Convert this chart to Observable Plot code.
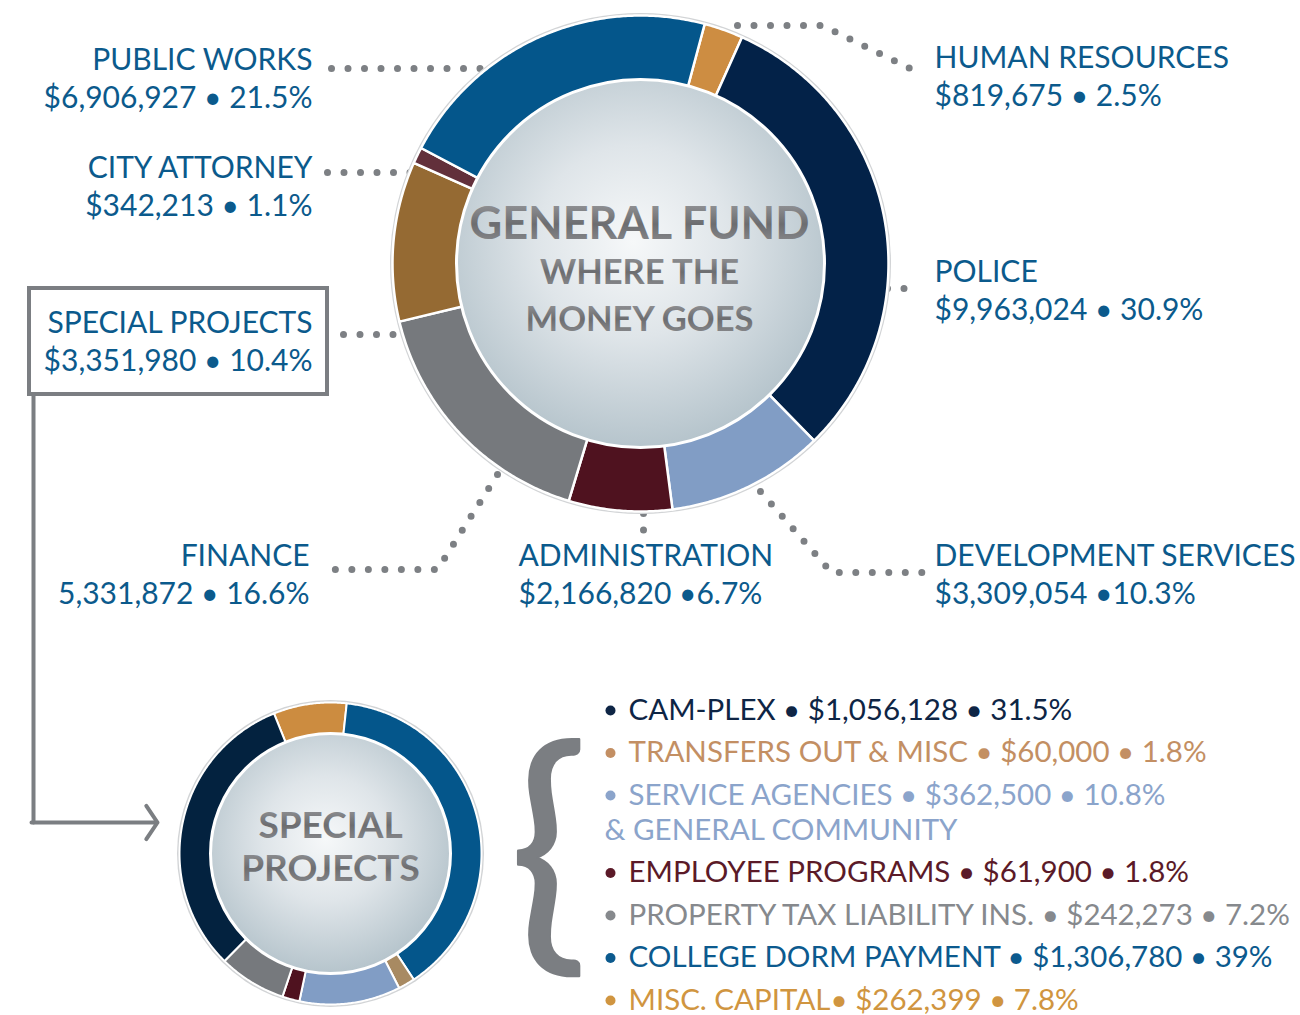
<!DOCTYPE html>
<html>
<head>
<meta charset="utf-8">
<script src="https://cdn.jsdelivr.net/npm/d3@7"></script>
<script src="https://cdn.jsdelivr.net/npm/@observablehq/plot@0.6"></script>
<style>
  html, body { margin: 0; padding: 0; background: #ffffff; }
  #chart svg { display: block; }
</style>
</head>
<body>
<div id="chart"></div>
<script>
// ---------------- DATA ----------------
// General fund departments, in clockwise ring order (starting at Human Resources)
const departments = ["HUMAN RESOURCES", "POLICE", "DEVELOPMENT SERVICES", "ADMINISTRATION",
                     "FINANCE", "SPECIAL PROJECTS", "CITY ATTORNEY", "PUBLIC WORKS"];
const deptAmounts = [819675, 9963024, 3309054, 2166820, 5331872, 3351980, 342213, 6906927];
const deptPercents = [2.5, 30.9, 10.3, 6.7, 16.6, 10.4, 1.1, 21.5];
// value lines exactly as printed on the graphic
const deptValueLabels = ["$819,675 • 2.5%", "$9,963,024 • 30.9%", "$3,309,054 •10.3%", "$2,166,820 •6.7%",
                         "5,331,872 • 16.6%", "$3,351,980 • 10.4%", "$342,213 • 1.1%", "$6,906,927 • 21.5%"];

// Special projects breakdown, in legend order
const spCategories = ["CAM-PLEX", "TRANSFERS OUT & MISC", "SERVICE AGENCIES", "EMPLOYEE PROGRAMS",
                      "PROPERTY TAX LIABILITY INS.", "COLLEGE DORM PAYMENT", "MISC. CAPITAL"];
const spAmounts = [1056128, 60000, 362500, 61900, 242273, 1306780, 262399];
const spPercents = [31.5, 1.8, 10.8, 1.8, 7.2, 39, 7.8];
const spLegendLines = ["CAM-PLEX • $1,056,128 • 31.5%", "TRANSFERS OUT & MISC • $60,000 • 1.8%",
                       "SERVICE AGENCIES • $362,500 • 10.8%", "EMPLOYEE PROGRAMS • $61,900 • 1.8%",
                       "PROPERTY TAX LIABILITY INS. • $242,273 • 7.2%", "COLLEGE DORM PAYMENT • $1,306,780 • 39%",
                       "MISC. CAPITAL• $262,399 • 7.8%"];
const spLegendContinuation = ["", "", "& GENERAL COMMUNITY", "", "", "", ""];
// clockwise ring order of the special projects donut (starting at the top)
const spRingOrder = ["MISC. CAPITAL", "COLLEGE DORM PAYMENT", "TRANSFERS OUT & MISC", "SERVICE AGENCIES",
                     "EMPLOYEE PROGRAMS", "PROPERTY TAX LIABILITY INS.", "CAM-PLEX"];

const centerTitle = ["GENERAL FUND", "WHERE THE", "MONEY GOES"];
const spCenterTitle = ["SPECIAL", "PROJECTS"];

// ---------------- STYLES ----------------
const deptColors = {
  "HUMAN RESOURCES": "#cd8d42", "POLICE": "#032248", "DEVELOPMENT SERVICES": "#819dc5",
  "ADMINISTRATION": "#4f121f", "FINANCE": "#76797d", "SPECIAL PROJECTS": "#956a33",
  "CITY ATTORNEY": "#62303b", "PUBLIC WORKS": "#04568b"
};
const spColors = {
  "CAM-PLEX": "#03223f", "TRANSFERS OUT & MISC": "#a88a62", "SERVICE AGENCIES": "#819dc5",
  "EMPLOYEE PROGRAMS": "#4f121f", "PROPERTY TAX LIABILITY INS.": "#76797d",
  "COLLEGE DORM PAYMENT": "#04568b", "MISC. CAPITAL": "#cc8c40"
};
const spTextColors = {
  "CAM-PLEX": "#0e2545", "TRANSFERS OUT & MISC": "#c38f63", "SERVICE AGENCIES": "#8ba4cb",
  "EMPLOYEE PROGRAMS": "#5b1a28", "PROPERTY TAX LIABILITY INS.": "#86898d",
  "COLLEGE DORM PAYMENT": "#0c5a8e", "MISC. CAPITAL": "#d09540"
};
const labelColor = "#0b5a8c";
const leaderColor = "#7d8084";
const frameColor = "#7b7e82";
const FONT = "Lato, 'Open Sans', sans-serif";

// ---------------- LAYOUT ----------------
const W = 1300, H = 1015;
const big = {cx: 640, cy: 263, rOuter: 248, rInner: 176, rDisk: 184, start: 15};
const small = {cx: 330, cy: 853, rOuter: 151, rInner: 112, rDisk: 120, start: -22};
const labelFont = 30, labelGap = 38;
// anchor for each department label: x, text anchor, baseline of the last line
const labelPos = {
  "PUBLIC WORKS": {x: 312, anchor: "end", y: 107},
  "CITY ATTORNEY": {x: 312, anchor: "end", y: 215},
  "SPECIAL PROJECTS": {x: 312, anchor: "end", y: 370},
  "HUMAN RESOURCES": {x: 934, anchor: "start", y: 105},
  "POLICE": {x: 934, anchor: "start", y: 319},
  "FINANCE": {x: 309, anchor: "end", y: 603},
  "ADMINISTRATION": {x: 518, anchor: "start", y: 603},
  "DEVELOPMENT SERVICES": {x: 934, anchor: "start", y: 603}
};
const leaders = {
  "PUBLIC WORKS": [[331, 68], [493, 68]],
  "CITY ATTORNEY": [[327, 172], [411, 172]],
  "SPECIAL PROJECTS": [[343, 334], [403, 334]],
  "HUMAN RESOURCES": [[737, 25], [822, 25], [914, 70]],
  "POLICE": [[887, 288], [920, 288]],
  "FINANCE": [[497, 474], [437, 569], [327, 569]],
  "ADMINISTRATION": [[643, 513], [643, 530]],
  "DEVELOPMENT SERVICES": [[760, 491], [831, 572], [926, 572]]
};
const box = {x1: 29, x2: 327, y1: 288, y2: 394};
const connector = [[33, 394], [33, 822]];
const arrow = {x1: 31, y1: 822, x2: 157, y2: 822};
const brace = {x: 548, baseline: 938, size: 260};
const legend = {bulletX: 610, textX: 628, contX: 604, firstBaseline: 719, step: 42.5, contStep: 35, font: 29.5};

// ---------------- GEOMETRY (from data) ----------------
function ringPoints(names, amounts, order, g) {
  const total = d3.sum(amounts);
  const rad = t => t * Math.PI / 180;
  const pts = [];
  let a = g.start;
  for (const name of order) {
    const span = amounts[names.indexOf(name)] / total * 360;
    const a0 = a; a += span;
    const n = Math.max(2, Math.ceil(span / 0.5));
    for (let i = 0; i <= n; i++) {
      const t = rad(a0 + span * i / n);
      pts.push({name, x: g.cx + g.rOuter * Math.sin(t), y: g.cy - g.rOuter * Math.cos(t)});
    }
    for (let i = n; i >= 0; i--) {
      const t = rad(a0 + span * i / n);
      pts.push({name, x: g.cx + g.rInner * Math.sin(t), y: g.cy - g.rInner * Math.cos(t)});
    }
  }
  return pts;
}
const bigRing = ringPoints(departments, deptAmounts, departments, big);
const smallRing = ringPoints(spCategories, spAmounts, spRingOrder, small);

const deptLabels = departments.map((name, i) => ({
  name, text: `${name}\n${deptValueLabels[i]}`, ...labelPos[name]
}));
const leaderPts = Object.entries(leaders).flatMap(([name, pts]) => pts.map(([x, y]) => ({name, x, y})));

let rowY = legend.firstBaseline;
const legendRows = spCategories.map((name, i) => {
  const row = {name, text: spLegendLines[i], cont: spLegendContinuation[i], y: rowY};
  rowY += legend.step + (row.cont ? legend.contStep : 0);
  return row;
});
const legendCont = legendRows.filter(d => d.cont).map(d => ({...d, y: d.y + legend.contStep}));

const labelMark = anchor => Plot.text(deptLabels.filter(d => d.anchor === anchor), {
  x: "x", y: "y", text: "text", textAnchor: anchor, lineAnchor: "bottom",
  fontSize: labelFont, lineHeight: labelGap / labelFont, fill: labelColor, fontFamily: FONT
});

// ---------------- PLOT ----------------
const svg = Plot.plot({
  width: W, height: H,
  margin: 0,
  x: {domain: [0, W], range: [0, W], axis: null},
  y: {domain: [0, H], range: [0, H], axis: null},
  color: {type: "identity"},
  style: {background: "#ffffff", fontFamily: FONT, overflow: "visible"},
  marks: [
    // dotted leader lines
    Plot.line(leaderPts, {x: "x", y: "y", z: "name", stroke: leaderColor, strokeWidth: 7,
      strokeLinecap: "round", strokeDasharray: "0 16.5"}),
    // big donut
    Plot.dot([big], {x: "cx", y: "cy", r: big.rOuter + 2.5, fill: "#d2d4d6", ariaLabel: "rim"}),
    Plot.line(bigRing, {x: "x", y: "y", z: "name", fill: d => deptColors[d.name], stroke: "#ffffff",
      strokeWidth: 2.5, strokeLinejoin: "round", curve: "linear-closed"}),
    Plot.dot([big], {x: "cx", y: "cy", r: big.rDisk, fill: "url(#diskGrad)", stroke: "#ffffff",
      strokeWidth: 3, ariaLabel: "disk"}),
    Plot.text([centerTitle[0]], {x: () => big.cx - 1, y: () => 238, text: d => d, fontSize: 45,
      fontWeight: 700, fill: "url(#metal)", lineAnchor: "bottom", fontFamily: FONT}),
    Plot.text(centerTitle.slice(1), {x: () => big.cx - 1, y: (d, i) => 283 + i * 47, text: d => d,
      fontSize: 34.5, fontWeight: 700, fill: "url(#metal)", lineAnchor: "bottom", fontFamily: FONT}),
    // small donut
    Plot.dot([small], {x: "cx", y: "cy", r: small.rOuter + 2.5, fill: "#d2d4d6", ariaLabel: "rim"}),
    Plot.line(smallRing, {x: "x", y: "y", z: "name", fill: d => spColors[d.name], stroke: "#ffffff",
      strokeWidth: 2, strokeLinejoin: "round", curve: "linear-closed"}),
    Plot.dot([small], {x: "cx", y: "cy", r: small.rDisk, fill: "url(#diskGrad)", stroke: "#ffffff",
      strokeWidth: 3, ariaLabel: "disk"}),
    Plot.text(spCenterTitle, {x: () => small.cx, y: (d, i) => 837 + i * 43, text: d => d,
      fontSize: 37, fontWeight: 700, fill: "url(#metal)", lineAnchor: "bottom", fontFamily: FONT}),
    // department labels
    labelMark("end"),
    labelMark("start"),
    // special projects box + connector arrow
    Plot.rect([box], {x1: "x1", x2: "x2", y1: "y1", y2: "y2", fill: "none", stroke: frameColor, strokeWidth: 4}),
    Plot.line(connector, {x: d => d[0], y: d => d[1], stroke: frameColor, strokeWidth: 4}),
    Plot.arrow([arrow], {x1: "x1", y1: "y1", x2: "x2", y2: "y2", stroke: frameColor, strokeWidth: 4,
      headLength: 7.5, headAngle: 112, strokeLinecap: "round", strokeLinejoin: "round"}),
    // brace
    Plot.text(["{"], {x: () => brace.x, y: () => brace.baseline, text: d => d, fontSize: brace.size,
      fontWeight: 400, fill: frameColor, stroke: frameColor, strokeWidth: 2.5, lineAnchor: "bottom", fontFamily: FONT}),
    // legend
    Plot.dot(legendRows, {x: () => legend.bulletX, y: d => d.y - 9, r: 5, fill: d => spTextColors[d.name]}),
    Plot.text(legendRows, {x: () => legend.textX, y: "y", text: "text", textAnchor: "start", lineAnchor: "bottom",
      fontSize: legend.font, fill: d => spTextColors[d.name], fontFamily: FONT}),
    Plot.text(legendCont, {x: () => legend.contX, y: "y", text: "cont", textAnchor: "start", lineAnchor: "bottom",
      fontSize: legend.font, fill: d => spTextColors[d.name], fontFamily: FONT})
  ]
});

d3.select(svg).insert("defs", ":first-child").html(`
  <radialGradient id="diskGrad" cx="48%" cy="44%" r="58%">
    <stop offset="0%" stop-color="#f6f8f9"/>
    <stop offset="45%" stop-color="#dfe5e9"/>
    <stop offset="100%" stop-color="#b3c2ca"/>
  </radialGradient>
  <linearGradient id="metal" x1="0" y1="0" x2="0" y2="1">
    <stop offset="0%" stop-color="#a2a3a6"/>
    <stop offset="55%" stop-color="#6c6d70"/>
    <stop offset="100%" stop-color="#8f9093"/>
  </linearGradient>
  <filter id="soft" x="-10%" y="-10%" width="120%" height="120%">
    <feGaussianBlur stdDeviation="2.2"/>
  </filter>
  <filter id="dshadow" x="-10%" y="-10%" width="120%" height="120%">
    <feDropShadow dx="0" dy="1" stdDeviation="2" flood-color="#000" flood-opacity="0.25"/>
  </filter>
`);
d3.select(svg).selectAll('g[aria-label="rim"]').attr("filter", "url(#soft)");
d3.select(svg).selectAll('g[aria-label="disk"]').attr("filter", "url(#dshadow)");

document.getElementById("chart").appendChild(svg);
</script>
</body>
</html>
